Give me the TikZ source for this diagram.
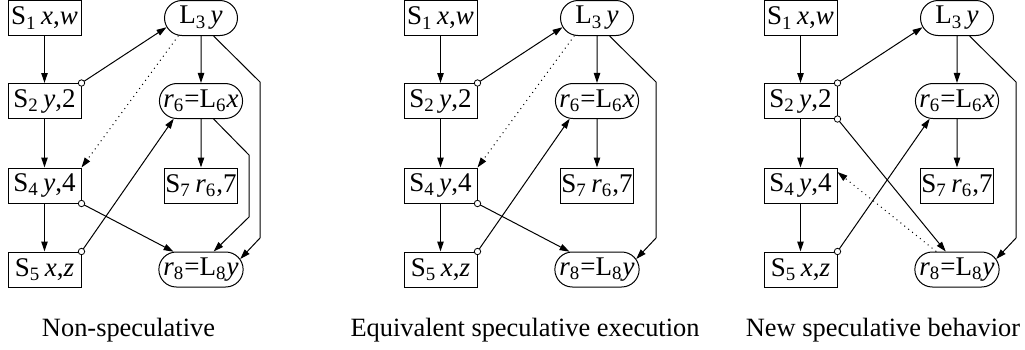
\documentclass[tikz,border=0pt]{standalone}
\usepackage{fontspec}
\setmainfont{Liberation Serif}
\newfontfamily\tms{Liberation Serif}
\usetikzlibrary{arrows.meta,shapes.misc}

\tikzset{
  stmt/.style={draw,rectangle,minimum width=36.5pt,minimum height=17.5pt,inner sep=0pt,
    font=\tms\fontsize{13.5}{15}\selectfont},
  load/.style={stmt,rounded rectangle,rounded rectangle arc length=180},
  dep/.style={-{Triangle[length=5pt,width=3.2pt]}},
  spec/.style={dep,dotted},
  port/.style={draw,fill=white,line width=.4pt},
  caption/.style={anchor=base,inner sep=0pt,font=\tms\fontsize{13.2}{15}\selectfont},
}

\begin{document}
\begin{tikzpicture}[x=.5pt,y=-.5pt,line width=.5pt]
  \useasboundingbox (0,0) rectangle (1025,349);

  \foreach \p/\dx/\cx/\txt in {a/0/128.5/Non-speculative,
      b/396/525/Equivalent speculative execution,
      c/756/883/New speculative behavior}{
    \node[stmt] (S1\p) at (\dx+44.5,18) {S\textsubscript{1}\,\textit{x},\textit{w}};
    \node[stmt] (S2\p) at (\dx+44.5,101) {S\textsubscript{2}\,\textit{y},2};
    \node[stmt] (S4\p) at (\dx+44.5,185.5) {S\textsubscript{4}\,\textit{y},4};
    \node[stmt] (S5\p) at (\dx+44.5,269.5) {S\textsubscript{5}\,\textit{x},\textit{z}};
    \node[load] (L3\p) at (\dx+201,18) {L\textsubscript{3}\,\textit{y}};
    \node[load] (r6\p) at (\dx+201,101) {\textit{r}\textsubscript{6}=L\textsubscript{6}\textit{x}};
    \node[stmt] (S7\p) at (\dx+201,185.5) {S\textsubscript{7}\,\textit{r}\textsubscript{6},7};
    \node[load] (r8\p) at (\dx+201,269.5) {\textit{r}\textsubscript{8}=L\textsubscript{8}\textit{y}};
    \node[caption] (cap\p) at (\cx,336.7) {\txt};

    % program order
    \draw[dep] (S1\p) -- (S2\p);
    \draw[dep] (S2\p) -- (S4\p);
    \draw[dep] (S4\p) -- (S5\p);
    \draw[dep] (L3\p) -- (r6\p);
    \draw[dep] (r6\p) -- (S7\p);
    \coordinate (k1\p) at (\dx+260,82);
    \coordinate (k2\p) at (\dx+260,238);
    \draw[dep] (L3\p.-55) -- (k1\p) -- (k2\p) -- (r8\p.15);

    % reads-from
    \draw[dep] (S2\p.north east) -- (L3\p.195);
    \draw[port] (S2\p.north east) circle (1.6pt);
    \draw[dep] (S5\p.north east) -- (r6\p.213);
    \draw[port] (S5\p.north east) circle (1.6pt);
  }

  % panels a and b
  \foreach \p in {a,b}{
    \draw[dep] (S4\p.south east) -- (r8\p.147);
    \draw[port] (S4\p.south east) circle (1.6pt);
    \draw[spec] (L3\p.218) -- (S4\p.north east);
  }
  \coordinate (k3a) at (249,155);
  \coordinate (k4a) at (249,217);
  \draw[dep] (r6a.-55) -- (k3a) -- (k4a) -- (r8a.55);

  % panel c
  \draw[dep] (S2c.south east) -- (r8c.122);
  \draw[port] (S2c.south east) circle (1.6pt);
  \draw[spec] (r8c.139) -- (S4c.20);
\end{tikzpicture}
\end{document}
